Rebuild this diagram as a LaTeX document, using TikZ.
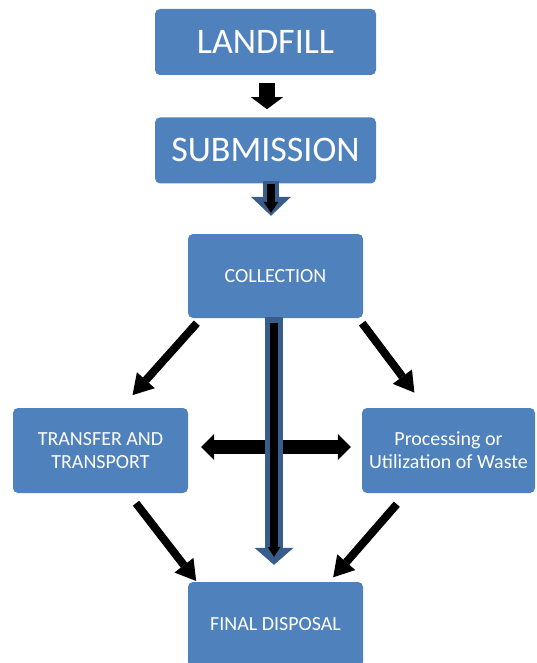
\documentclass[tikz,border=0pt]{standalone}
\usepackage{fontspec}
\setmainfont{Carlito}
\usetikzlibrary{arrows.meta,positioning}
\definecolor{boxblue}{HTML}{4F81BD}
\definecolor{edgeblue}{HTML}{385D8A}
\tikzset{
  block/.style={ % image of a large title box
    rectangle, rounded corners=5pt, fill=boxblue, text=white,
    minimum width=221pt, minimum height=66pt, inner sep=0pt,
    font=\fontsize{36}{40}\selectfont
  },
  stage/.style={ % image of a process stage
    rectangle, rounded corners=5pt, fill=boxblue, text=white,
    minimum width=175pt, minimum height=85pt, inner sep=0pt, align=center,
    font=\fontsize{20}{23}\selectfont
  },
  fat/.style={ % plain black block arrow
    black, line width=16pt, -{Triangle[width=32pt,length=12pt,line width=0pt]}
  },
  thin/.style={ % slanted black arrow
    black, line width=8pt, -{Triangle[width=24pt,length=20pt,line width=0pt]}
  },
  twoway/.style={ % black block arrow with two heads
    black, line width=14pt,
    {Triangle[width=26pt,length=13pt,line width=0pt]}-{Triangle[width=26pt,length=13pt,line width=0pt]}
  },
  outer/.style={ % blue rim of an outlined block arrow
    edgeblue, line width=#1
  },
  inner/.style={ % black core of an outlined block arrow
    black, line width=8pt
  }
}

\begin{document}
\begin{tikzpicture}[x=1pt, y=-1pt]

  \useasboundingbox (0,0) rectangle (536,663);
  \clip (0,0) rectangle (536,663);

  \node[block] (landfill) at (265.5,42) {LANDFILL};
  \node[block, below=42pt of landfill] (submission) {SUBMISSION};
  \node[stage, minimum height=84pt] (collection) at (275.5,276) {COLLECTION};
  \node[stage] (transfer) at (100.5,450.5) {TRANSFER AND\\TRANSPORT};
  \node[stage, minimum width=173pt] (processing) at (448.5,450.5) {Processing or\\Utilization of Waste};
  \node[stage] (disposal) at (275.5,624.5) {FINAL DISPOSAL};

  % top of the chain
  \draw[fat, shorten <=8pt, shorten >=8pt] ([xshift=1.5pt]landfill.south) -- ([xshift=1.5pt]submission.north);
  \draw[outer=16pt, -{Triangle[width=40pt,length=19pt,line width=0pt]}, shorten <=-3pt, shorten >=18pt]
    ([xshift=5.5pt]submission.south) -- ([xshift=-4.5pt]collection.north);
  \draw[inner, -{Triangle[width=15pt,length=11pt,line width=0pt]}, shorten >=21pt]
    ([xshift=5.5pt]submission.south) -- ([xshift=-4.5pt]collection.north);

  % side branches
  \draw[thin, shorten >=17pt] ([xshift=9pt,yshift=-5pt]collection.south west) -- ([xshift=-67pt]transfer.north east);
  \draw[thin, shorten >=19pt] ([xshift=-1pt,yshift=-5pt]collection.south east) -- ([xshift=64pt]processing.north west);
  \draw[thin, shorten >=1pt] ([xshift=35.5pt,yshift=-10pt]transfer.south) -- ([xshift=9pt]disposal.north west);
  \draw[thin, shorten >=6pt] ([xshift=35pt,yshift=-11pt]processing.south west) -- ([xshift=-34pt]disposal.north east);

  \draw[twoway, shorten <=13pt, shorten >=11pt] ([yshift=3.5pt]transfer.east) -- ([yshift=3.5pt]processing.west);

  % straight way down
  \draw[outer=18pt, -{Triangle[width=39pt,length=17pt,line width=0pt]}, shorten <=-1pt, shorten >=17pt]
    ([xshift=-1.5pt]collection.south) -- ([xshift=-1.5pt]disposal.north);
  \draw[inner, -{Triangle[width=13pt,length=10pt,line width=0pt]}, shorten <=5pt, shorten >=25pt]
    ([xshift=-1.5pt]collection.south) -- ([xshift=-1.5pt]disposal.north);

\end{tikzpicture}
\end{document}
